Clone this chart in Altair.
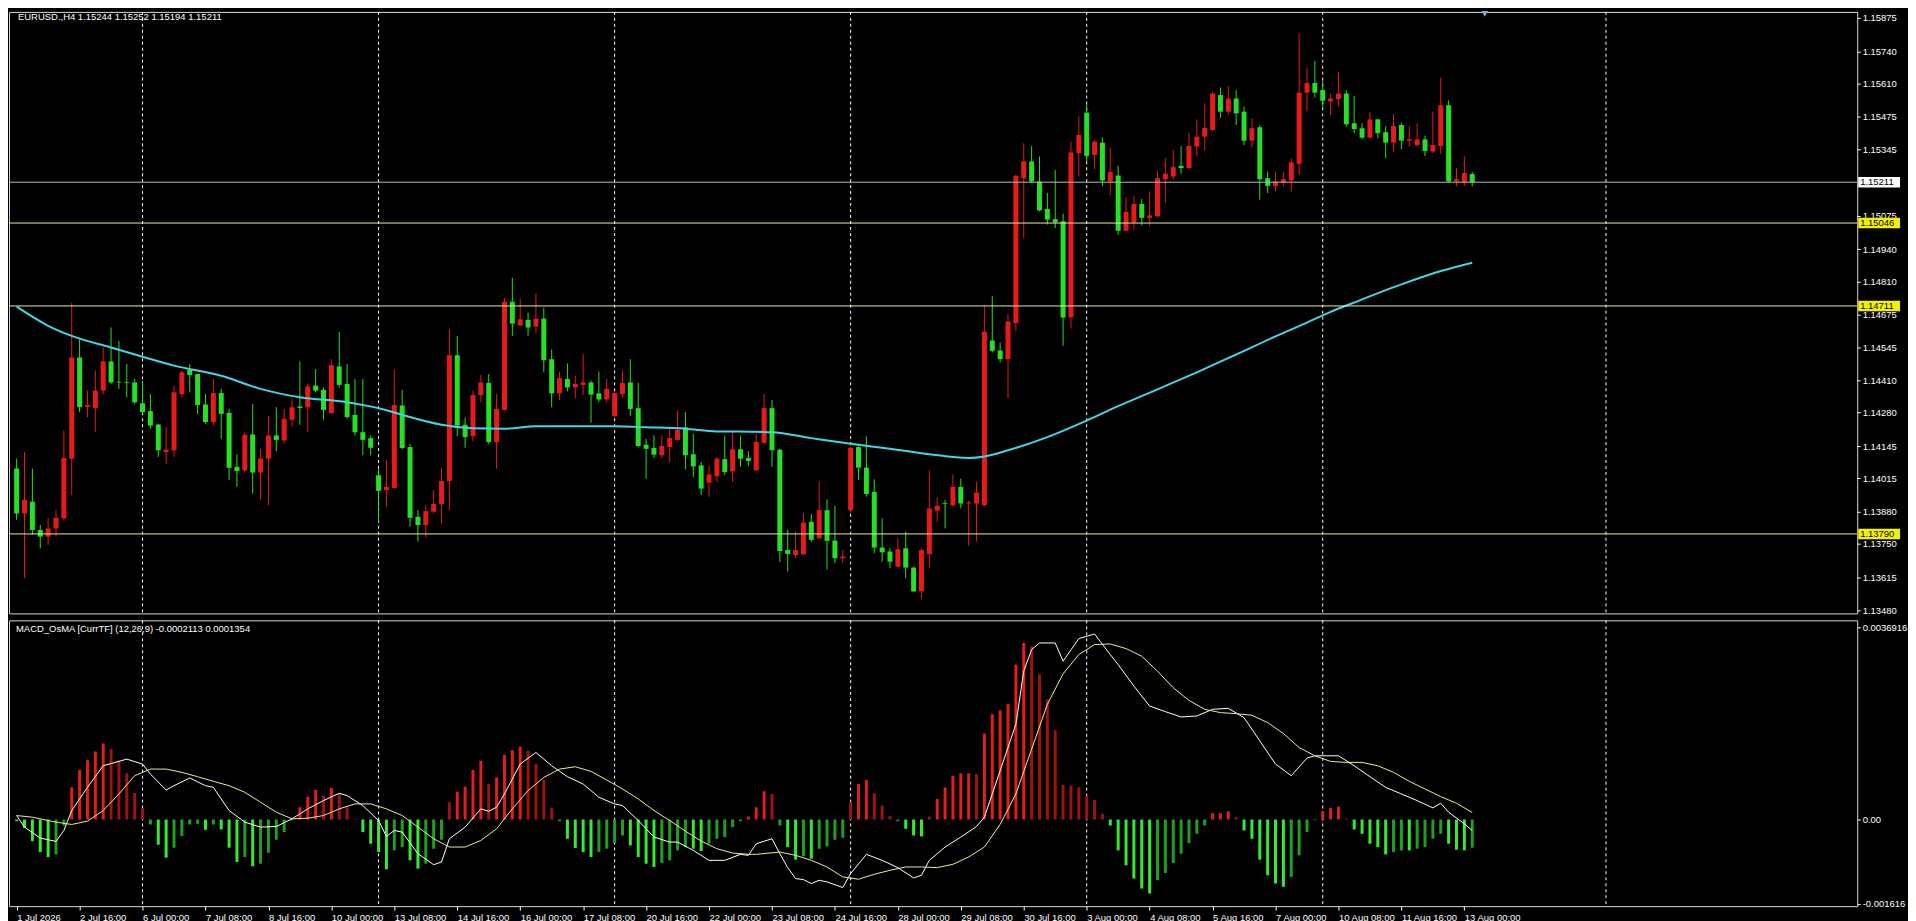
import altair as alt
import pandas as pd

# ---------------- data ----------------
OPEN = [1.14054,1.13873,1.13920,1.13806,1.13779,1.13812,1.13853,1.14094,1.14503,1.14303,
        1.14299,1.14369,1.14487,1.14405,1.14402,1.14402,1.14318,1.14286,1.14232,1.14121,
        1.14128,1.14355,1.14454,1.14436,1.14313,1.14242,1.14359,1.14279,1.14061,1.14047,
        1.14192,1.14038,1.14094,1.14188,1.14168,1.14251,1.14305,1.14302,1.14389,1.14372,
        1.14278,1.14467,1.14396,1.14271,1.14201,1.14177,1.14027,1.13967,1.13976,1.14309,
        1.14141,1.13859,1.13826,1.13880,1.13911,1.14004,1.14512,1.14231,1.14185,1.14351,
        1.14400,1.14161,1.14291,1.14728,1.14633,1.14655,1.14628,1.14660,1.14496,1.14358,
        1.14416,1.14382,1.14392,1.14402,1.14358,1.14333,1.14266,1.14355,1.14402,1.14298,
        1.14150,1.14137,1.14108,1.14141,1.14170,1.14221,1.14112,1.14067,1.13997,1.14023,
        1.14092,1.14043,1.14132,1.14097,1.14047,1.14158,1.14298,1.14130,1.13725,1.13705,
        1.13708,1.13839,1.13772,1.13886,1.13763,1.13692,1.13886,1.14141,1.14058,1.13960,
        1.13735,1.13719,1.13658,1.13732,1.13654,1.13558,1.13708,1.13884,1.13914,1.13906,
        1.13980,1.13913,1.13913,1.13906,1.14571,1.14531,1.14496,1.14642,1.15227,1.15295,
        1.15214,1.15103,1.15062,1.15053,1.14664,1.15328,1.15492,1.15321,1.15371,1.15214,
        1.15238,1.15015,1.15049,1.15123,1.15067,1.15073,1.15223,1.15234,1.15277,1.15268,
        1.15355,1.15395,1.15422,1.15563,1.15496,1.15549,1.15496,1.15379,1.15433,1.15227,
        1.15196,1.15210,1.15218,1.15285,1.15573,1.15612,1.15583,1.15538,1.15546,1.15569,
        1.15449,1.15429,1.15391,1.15465,1.15413,1.15371,1.15442,1.15378,1.15361,1.15384,
        1.15335,1.15357,1.15522,1.15214,1.15210,1.15244]
HIGH = [1.14094,1.14121,1.14054,1.13826,1.13853,1.13886,1.14208,1.14724,1.14577,1.14369,
        1.14450,1.14543,1.14624,1.14570,1.14476,1.14416,1.14409,1.14355,1.14235,1.14221,
        1.14389,1.14450,1.14476,1.14436,1.14355,1.14416,1.14376,1.14295,1.14112,1.14201,
        1.14315,1.14134,1.14266,1.14302,1.14295,1.14335,1.14487,1.14396,1.14456,1.14382,
        1.14496,1.14606,1.14476,1.14416,1.14416,1.14188,1.14054,1.14088,1.14454,1.14372,
        1.14154,1.13886,1.13906,1.13967,1.14057,1.14617,1.14590,1.14259,1.14369,1.14432,
        1.14436,1.14355,1.14744,1.14825,1.14740,1.14684,1.14762,1.14704,1.14535,1.14446,
        1.14479,1.14429,1.14516,1.14409,1.14446,1.14416,1.14365,1.14450,1.14496,1.14400,
        1.14174,1.14188,1.14188,1.14217,1.14289,1.14282,1.14195,1.14081,1.14065,1.14101,
        1.14185,1.14201,1.14185,1.14124,1.14192,1.14355,1.14331,1.14134,1.13806,1.13799,
        1.13873,1.13870,1.14000,1.13930,1.13904,1.13725,1.14141,1.14144,1.14184,1.14011,
        1.13853,1.13732,1.13772,1.13799,1.13658,1.13732,1.14047,1.13937,1.13927,1.14031,
        1.14013,1.13924,1.14000,1.14711,1.14751,1.14563,1.14679,1.15241,1.15368,1.15357,
        1.15315,1.15167,1.15261,1.15084,1.15375,1.15476,1.15529,1.15382,1.15392,1.15352,
        1.15277,1.15151,1.15154,1.15143,1.15174,1.15258,1.15308,1.15341,1.15357,1.15411,
        1.15465,1.15529,1.15576,1.15594,1.15599,1.15583,1.15516,1.15469,1.15442,1.15254,
        1.15254,1.15254,1.15308,1.15811,1.15674,1.15701,1.15620,1.15569,1.15657,1.15583,
        1.15559,1.15449,1.15496,1.15465,1.15438,1.15486,1.15452,1.15438,1.15449,1.15399,
        1.15496,1.15633,1.15542,1.15268,1.15315,1.15252]
LOW = [1.13846,1.13611,1.13786,1.13732,1.13746,1.13779,1.13846,1.13947,1.14282,1.14262,
       1.14201,1.14355,1.14396,1.14376,1.14342,1.14315,1.14275,1.14215,1.14101,1.14074,
       1.14101,1.14342,1.14362,1.14275,1.14235,1.14228,1.14174,1.14007,1.13980,1.14040,
       1.13953,1.13927,1.13906,1.14124,1.14154,1.14224,1.14231,1.14201,1.14362,1.14252,
       1.14275,1.14382,1.14255,1.14188,1.14108,1.14108,1.13839,1.13900,1.13973,1.14132,
       1.13819,1.13759,1.13775,1.13873,1.13832,1.13886,1.14185,1.14138,1.14164,1.14322,
       1.14154,1.14054,1.14289,1.14590,1.14628,1.14590,1.14601,1.14443,1.14302,1.14331,
       1.14366,1.14338,1.14351,1.14239,1.14322,1.14322,1.14262,1.14342,1.14266,1.14141,
       1.14013,1.14097,1.14097,1.14081,1.14165,1.14051,1.14020,1.13947,1.13940,1.14000,
       1.14027,1.14000,1.14061,1.14065,1.14044,1.14157,1.14061,1.13676,1.13638,1.13692,
       1.13705,1.13759,1.13770,1.13646,1.13672,1.13672,1.13873,1.14007,1.13940,1.13712,
       1.13678,1.13651,1.13654,1.13611,1.13555,1.13528,1.13651,1.13839,1.13812,1.13900,
       1.13893,1.13743,1.13759,1.13903,1.14523,1.14483,1.14339,1.14610,1.14986,1.15207,
       1.15093,1.15040,1.15026,1.14550,1.14620,1.15234,1.15295,1.15264,1.15196,1.15160,
       1.14999,1.15013,1.15019,1.15036,1.15033,1.15071,1.15127,1.15221,1.15245,1.15264,
       1.15315,1.15341,1.15418,1.15469,1.15482,1.15442,1.15361,1.15352,1.15140,1.15167,
       1.15174,1.15194,1.15170,1.15241,1.15498,1.15553,1.15509,1.15482,1.15516,1.15435,
       1.15409,1.15384,1.15388,1.15388,1.15308,1.15335,1.15344,1.15355,1.15355,1.15317,
       1.15328,1.15325,1.15210,1.15194,1.15196,1.15194]
CLOSE = [1.13873,1.13927,1.13806,1.13779,1.13812,1.13855,1.14097,1.14503,1.14302,1.14311,
         1.14369,1.14487,1.14402,1.14402,1.14400,1.14322,1.14282,1.14228,1.14128,1.14130,
         1.14362,1.14443,1.14432,1.14311,1.14242,1.14359,1.14275,1.14057,1.14044,1.14190,
         1.14038,1.14094,1.14188,1.14170,1.14255,1.14302,1.14299,1.14386,1.14369,1.14291,
         1.14472,1.14392,1.14262,1.14201,1.14170,1.14138,1.13964,1.13980,1.14311,1.14137,
         1.13855,1.13826,1.13882,1.13911,1.14004,1.14512,1.14228,1.14181,1.14351,1.14402,
         1.14161,1.14295,1.14728,1.14640,1.14657,1.14624,1.14660,1.14492,1.14358,1.14419,
         1.14382,1.14396,1.14402,1.14353,1.14333,1.14376,1.14359,1.14400,1.14295,1.14145,
         1.14134,1.14110,1.14145,1.14177,1.14211,1.14108,1.14063,1.13973,1.14030,1.14094,
         1.14040,1.14132,1.14094,1.14085,1.14161,1.14298,1.14128,1.13721,1.13709,1.13725,
         1.13836,1.13766,1.13886,1.13762,1.13692,1.13698,1.14138,1.14058,1.13951,1.13735,
         1.13716,1.13678,1.13728,1.13654,1.13558,1.13725,1.13893,1.13904,1.13911,1.13980,
         1.13913,1.13917,1.13957,1.14607,1.14530,1.14496,1.14648,1.15237,1.15295,1.15214,
         1.15097,1.15060,1.15049,1.14664,1.15331,1.15402,1.15317,1.15375,1.15218,1.15252,
         1.15015,1.15091,1.15123,1.15067,1.15077,1.15227,1.15245,1.15272,1.15268,1.15357,
         1.15395,1.15431,1.15569,1.15496,1.15549,1.15489,1.15379,1.15429,1.15223,1.15196,
         1.15214,1.15223,1.15291,1.15573,1.15612,1.15573,1.15540,1.15549,1.15569,1.15445,
         1.15426,1.15391,1.15465,1.15409,1.15371,1.15438,1.15379,1.15384,1.15384,1.15337,
         1.15361,1.15522,1.15214,1.15223,1.15248,1.15211]

MA_BAR = [1, 5, 8, 13, 17, 21, 27, 32, 37, 43, 48, 50, 55, 59, 63, 67, 72, 77, 81, 86,
          90, 94, 97, 102, 107, 112, 117, 122, 124, 127, 132, 137, 141, 146, 151, 156,
          161, 165, 168, 171, 177, 182, 186]
MA_VAL = [1.14708, 1.14631, 1.14590, 1.14543, 1.14506, 1.14470, 1.14429, 1.14376, 1.14342,
          1.14322, 1.14290, 1.14271, 1.14231, 1.14217, 1.14215, 1.14225, 1.14225, 1.14225,
          1.14221, 1.14215, 1.14204, 1.14203, 1.14201, 1.14177, 1.14154, 1.14134, 1.14112,
          1.14097, 1.14103, 1.14128, 1.14181, 1.14248, 1.14306, 1.14374, 1.14443, 1.14515,
          1.14588, 1.14644, 1.14687, 1.14725, 1.14798, 1.14852, 1.14886]

# OsMA histogram, in units of 0.0001
HIST_E4 = [-0.32,-1.59,-4.14,-6.24,-7.19,-6.68,-1.15,6.17,9.48,11.39,
           13.05,14.58,13.49,11.27,8.85,5.09,2.23,-0.95,-4.84,-7.32,
           -5.41,-3.18,-0.95,-0.83,-1.97,-0.95,-1.91,-5.41,-8.15,-7.19,
           -8.97,-8.47,-6.37,-3.88,-2.42,-0.19,2.36,4.39,5.66,4.58,
           6.05,4.90,2.36,0.13,-2.42,-4.65,-6.24,-9.55,-5.92,-5.28,
           -7.83,-9.42,-8.47,-5.60,-3.88,3.31,5.35,6.30,9.48,11.27,
           6.81,8.08,12.41,13.30,13.94,13.18,10.63,7.57,2.23,-0.32,
           -3.69,-5.47,-6.24,-7.19,-6.24,-5.60,-4.52,-3.06,-4.96,-7.19,
           -8.47,-9.10,-8.34,-7.83,-5.92,-5.28,-5.60,-6.05,-4.65,-3.69,
           -3.37,-1.46,-0.32,0.57,2.36,5.41,4.90,-1.15,-5.28,-7.70,
           -7.07,-7.51,-5.60,-5.16,-3.88,-3.50,3.31,6.81,7.57,5.03,
           2.67,0.64,-0.32,-1.78,-3.06,-3.25,0.57,3.95,6.17,8.40,
           8.85,8.85,8.72,16.49,20.18,20.94,22.21,29.72,33.86,33.23,
           27.82,23.04,17.12,6.62,6.49,6.17,4.58,3.76,1.08,-1.15,
           -5.92,-8.78,-11.33,-13.24,-14.19,-11.65,-10.25,-8.34,-6.56,-4.52,
           -2.74,-1.15,1.21,1.21,1.59,0.45,-2.10,-3.69,-7.70,-10.69,
           -12.28,-12.92,-11.01,-6.87,-2.42,-0.13,1.59,2.23,2.48,0.19,
           -1.91,-2.74,-4.65,-5.28,-6.68,-6.24,-5.92,-5.92,-5.60,-5.28,
           -3.69,-2.74,-4.65,-5.79,-5.92,-5.41]

MACD_BAR = [1,2,4,6,7,8,10,12,15,17,18,20,21,23,25,26,28,30,32,34,36,38,40,42,43,45,47,48,49,50,
            52,54,55,56,58,60,61,62,63,65,67,69,71,73,75,77,78,80,82,84,85,87,89,91,93,94,95,97,98,99,
            100,101,102,103,104,106,107,109,111,113,115,116,117,119,121,123,124,126,128,129,130,131,
            133,134,136,138,140,141,143,145,147,149,151,153,155,157,159,161,163,165,166,169,171,173,
            175,177,179,181,182,183,185,186]
MACD_E4 = [0.76,-1.46,-3.56,-4.20,-2.10,1.72,6.17,10.31,11.58,10.63,8.72,5.66,6.49,7.96,6.49,6.17,
           1.72,-0.51,-1.46,-1.34,0.13,2.04,3.63,5.03,4.58,2.67,-0.19,-3.25,-2.10,-2.42,-6.56,-8.66,
           -8.15,-3.69,-1.46,2.04,1.59,2.36,4.90,10.63,12.86,10.31,8.21,6.81,4.26,2.99,2.67,-0.19,
           -3.37,-4.33,-4.33,-5.92,-7.83,-7.83,-6.68,-6.87,-4.65,-3.69,-6.56,-9.23,-11.33,-11.52,
           -12.28,-11.65,-11.97,-13.05,-10.37,-6.68,-7.83,-9.23,-11.20,-10.69,-7.83,-5.28,-3.37,
           -1.34,0.45,9.36,18.27,28.45,32.59,33.86,33.86,30.36,34.69,35.58,31.63,29.72,25.59,21.77,
           20.69,19.67,19.86,21.13,21.32,19.54,15.09,10.63,8.40,11.78,12.22,12.22,10.31,8.21,6.17,
           4.90,3.63,2.23,3.12,1.40,-0.83,-2.11]

SIG_BAR = [1,3,6,8,10,12,14,16,18,20,22,24,26,28,30,32,34,36,38,40,42,44,46,48,50,52,54,56,58,60,
           62,64,66,68,70,72,74,76,78,80,82,84,86,88,90,92,94,95,98,100,102,104,106,108,110,112,114,
           116,118,120,122,124,126,128,130,132,134,136,138,140,142,144,146,148,150,152,154,156,158,
           160,162,164,166,168,170,172,174,176,178,180,182,184,186]
SIG_E4 = [0.76,0.45,-0.51,-0.95,-0.32,1.72,4.90,8.40,9.67,9.67,9.04,8.21,7.32,6.49,5.22,3.31,1.40,
          0.13,0.25,0.76,2.04,2.99,2.99,2.04,0.76,-1.46,-3.69,-5.28,-5.28,-4.01,-1.78,2.04,5.54,8.08,
          9.67,10.12,9.23,7.57,5.86,3.95,1.72,-0.19,-2.23,-4.14,-5.60,-6.43,-6.68,-6.68,-6.24,-6.87,
          -7.83,-9.10,-11.01,-11.46,-10.50,-9.74,-9.10,-9.10,-9.23,-8.59,-7.19,-5.28,-0.95,4.90,13.49,
          22.09,27.94,31.63,33.54,33.67,32.78,31.32,28.45,25.27,22.85,21.13,20.50,20.30,19.99,18.59,
          16.49,13.81,12.22,11.14,10.95,10.95,10.31,9.04,7.32,5.86,4.39,3.12,1.35]

TIME_LABELS = ["1 Jul 2026", "2 Jul 16:00", "6 Jul 00:00", "7 Jul 08:00", "8 Jul 16:00",
               "10 Jul 00:00", "13 Jul 08:00", "14 Jul 16:00", "16 Jul 00:00", "17 Jul 08:00",
               "20 Jul 16:00", "22 Jul 00:00", "23 Jul 08:00", "24 Jul 16:00", "28 Jul 00:00",
               "29 Jul 08:00", "30 Jul 16:00", "3 Aug 00:00", "4 Aug 08:00", "5 Aug 16:00",
               "7 Aug 00:00", "10 Aug 08:00", "11 Aug 16:00", "13 Aug 00:00"]
TIME_LABEL_BARS = [1 + 8 * i for i in range(len(TIME_LABELS))]
SEPARATOR_BARS = [17, 47, 77, 107, 137, 167, 203]

PRICE_TICKS = [1.15875, 1.15740, 1.15610, 1.15475, 1.15345, 1.15075, 1.14940, 1.14810,
               1.14675, 1.14545, 1.14410, 1.14280, 1.14145, 1.14015, 1.13880, 1.13750,
               1.13615, 1.13480]
YELLOW_LEVELS = [1.15046, 1.14711, 1.13790]
CURRENT_PRICE = [1.15211]
IND_TICKS = [0.0036916, 0.0, -0.001616]

HEADER_MAIN = "EURUSD.,H4  1.15244 1.15252 1.15194 1.15211"
HEADER_IND = "MACD_OsMA [CurrTF] (12,26,9) -0.0002113 0.0001354"
SHIFT_MARK_BAR = [187.6]

# ---------------- layout / style ----------------
W = 1856
H_MAIN = 604
H_IND = 287
X_DOM = [0.66, 234.3]
Y_DOM = [1.13469, 1.15899]
IND_DOM = [-0.0016616, 0.0038197]
FONT = "Liberation Sans"
UP_COL, DN_COL = "#e8191b", "#25e025"

n = list(range(1, len(OPEN) + 1))
candles = pd.DataFrame({"n": n, "o": OPEN, "h": HIGH, "l": LOW, "c": CLOSE})
candles["col"] = [UP_COL if c > o else DN_COL for o, c in zip(OPEN, CLOSE)]
lo_b, hi_b = [], []
for o, c in zip(OPEN, CLOSE):
    a, b = min(o, c), max(o, c)
    if b - a < 0.00003:
        m = (a + b) / 2
        a, b = m - 0.000015, m + 0.000015
    lo_b.append(a)
    hi_b.append(b)
candles["blo"] = lo_b
candles["bhi"] = hi_b
candles["wlo"] = [min(l, o, c) for l, o, c in zip(LOW, OPEN, CLOSE)]
candles["whi"] = [max(h, o, c) for h, o, c in zip(HIGH, OPEN, CLOSE)]

ma = pd.DataFrame({"n": MA_BAR, "v": MA_VAL})
seps = pd.DataFrame({"n": SEPARATOR_BARS})
yel = pd.DataFrame({"p": YELLOW_LEVELS, "t": [f"{v:.5f}" for v in YELLOW_LEVELS]})
cur = pd.DataFrame({"p": CURRENT_PRICE, "t": [f"{v:.5f}" for v in CURRENT_PRICE]})

hist_cols = []
prev = 0.0
for v in HIST_E4:
    grow = abs(v) >= abs(prev)
    if v >= 0:
        hist_cols.append("#e41c1c" if grow else "#a01212")
    else:
        hist_cols.append("#34ea34" if grow else "#1f9f1f")
    prev = v
hist = pd.DataFrame({"n": n, "h": [v * 1e-4 for v in HIST_E4], "z": 0.0, "col": hist_cols})
macd = pd.DataFrame({"n": MACD_BAR, "v": [v * 1e-4 for v in MACD_E4]})
sig = pd.DataFrame({"n": SIG_BAR, "v": [v * 1e-4 for v in SIG_E4]})

XS = alt.Scale(domain=X_DOM, nice=False, zero=False)
YS = alt.Scale(domain=Y_DOM, nice=False, zero=False)
IS = alt.Scale(domain=IND_DOM, nice=False, zero=False)

YAX = alt.Axis(orient="right", values=PRICE_TICKS, format=".5f", title=None,
               tickSize=3, labelPadding=2, grid=False, domain=False)
label_arr = "[" + ",".join("'" + s + "'" for s in TIME_LABELS) + "]"
XAX = alt.Axis(values=TIME_LABEL_BARS, labelExpr=label_arr + "[round((datum.value-1)/8)]",
               orient="bottom", title=None, tickSize=4, labelPadding=2, labelAlign="left",
               labelFlush=False, labelOverlap=False, grid=False, domain=False,
               labelBaseline="top")
IAX = alt.Axis(orient="right", values=IND_TICKS, title=None, tickSize=3, labelPadding=2,
               grid=False, domain=False,
               labelExpr="datum.value > 0.001 ? '0.0036916' : (datum.value < -0.001 ? '-0.001616' : '0.00')")


def xm(f="n:Q"):
    return alt.X(f, scale=XS, axis=None)


def ym(f):
    return alt.Y(f, scale=YS, axis=YAX)


def xi(f="n:Q"):
    return alt.X(f, scale=XS, axis=XAX)


def yi(f):
    return alt.Y(f, scale=IS, axis=IAX)


# ---------------- main price panel ----------------
sep_main = alt.Chart(seps).mark_rule(color="#ffffff", strokeDash=[3, 3], strokeWidth=1).encode(x=xm())
wicks = alt.Chart(candles).mark_rule(strokeWidth=1).encode(
    x=xm(), y=ym("wlo:Q"), y2="whi:Q", color=alt.Color("col:N", scale=None))
bodies = alt.Chart(candles).mark_bar(width=5).encode(
    x=xm(), y=ym("blo:Q"), y2="bhi:Q", color=alt.Color("col:N", scale=None))
ma_line = alt.Chart(ma).mark_line(color="#45d3e6", strokeWidth=2, interpolate="monotone").encode(
    x=xm(), y=ym("v:Q"))
yel_lines = alt.Chart(yel).mark_rule(color="#eaeaa6", strokeWidth=1).encode(y=ym("p:Q"))
cur_line = alt.Chart(cur).mark_rule(color="#b8b8b8", strokeWidth=1).encode(y=ym("p:Q"))
BOX = "M-1,-0.25H1V0.25H-1Z"
yel_box = alt.Chart(yel).mark_point(shape=BOX, filled=True, opacity=1, size=1764,
                                    color="#f2f200", strokeWidth=0).encode(
    x=alt.value(W + 22), y=ym("p:Q"))
cur_box = alt.Chart(cur).mark_point(shape=BOX, filled=True, opacity=1, size=1764,
                                    color="#ffffff", strokeWidth=0).encode(
    x=alt.value(W + 22), y=ym("p:Q"))
yel_txt = alt.Chart(yel).mark_text(align="left", baseline="middle", color="#000000",
                                   font=FONT, fontSize=9.5).encode(
    x=alt.value(W + 3), y=ym("p:Q"), text="t:N")
cur_txt = alt.Chart(cur).mark_text(align="left", baseline="middle", color="#000000",
                                   font=FONT, fontSize=9.5).encode(
    x=alt.value(W + 3), y=ym("p:Q"), text="t:N")
head_main = alt.Chart(pd.DataFrame({"t": [HEADER_MAIN]})).mark_text(
    align="left", baseline="middle", color="#ffffff", font=FONT, fontSize=9.5).encode(
    x=alt.value(9), y=alt.value(5), text="t:N")
shift_mark = alt.Chart(pd.DataFrame({"n": SHIFT_MARK_BAR})).mark_point(
    shape="triangle-down", filled=True, size=45, color="#8ea3c8", opacity=1).encode(
    x=xm(), y=alt.value(2))

main = alt.layer(sep_main, wicks, bodies, ma_line, yel_lines, cur_line,
                 yel_box, cur_box, yel_txt, cur_txt, head_main, shift_mark).properties(
    width=W, height=H_MAIN)

# ---------------- indicator panel ----------------
sep_ind = alt.Chart(seps).mark_rule(color="#ffffff", strokeDash=[3, 3], strokeWidth=1).encode(x=xi())
bars = alt.Chart(hist).mark_bar(width=3).encode(
    x=xi(), y=yi("h:Q"), y2="z:Q", color=alt.Color("col:N", scale=None))
macd_line = alt.Chart(macd).mark_line(color="#ffffff", strokeWidth=1).encode(x=xi(), y=yi("v:Q"))
sig_line = alt.Chart(sig).mark_line(color="#eee8a0", strokeWidth=1).encode(x=xi(), y=yi("v:Q"))
head_ind = alt.Chart(pd.DataFrame({"t": [HEADER_IND]})).mark_text(
    align="left", baseline="middle", color="#ffffff", font=FONT, fontSize=9.5).encode(
    x=alt.value(7), y=alt.value(9), text="t:N")

ind = alt.layer(sep_ind, bars, macd_line, sig_line, head_ind).properties(width=W, height=H_IND)

chart = alt.vconcat(main, ind, spacing=3).properties(
    padding=0, background="#000000"
).configure_view(
    stroke="#d8d8d8", strokeWidth=1, fill="#000000"
).configure_axis(
    labelFont=FONT, labelFontSize=9.5, labelColor="#ffffff", tickColor="#ffffff",
    tickWidth=1
)

chart.save("out.html", embed_options={"renderer": "svg", "actions": False})
